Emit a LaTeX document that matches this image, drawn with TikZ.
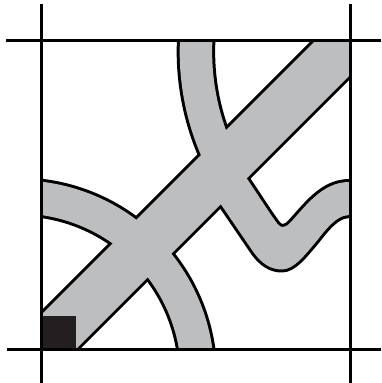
\documentclass[tikz,border=0pt]{standalone}
\definecolor{bandgray}{RGB}{188,190,192}
\definecolor{sqblack}{RGB}{35,31,32}
\tikzset{
  outl/.style={draw=black, line width=6pt, line join=round},
  bandfill/.style={fill=bandgray},
  frameline/.style={draw=black, line width=3pt},
}
\begin{document}
\begin{tikzpicture}[x=1pt,y=-1pt]
\useasboundingbox (0,0) rectangle (381,383);
% diagonal band
\def\bandDiag{(30,326) -- (326,30) -- (362,30) -- (362,63) -- (63,362) -- (30,362) -- cycle}
% quarter-ring band, centre (18.7,376)
\def\bandArc{(1.65,181.14) arc[start angle=-95, end angle=5, radius=195.6]
  -- (180.58,390.16) arc[start angle=5, end angle=-95, radius=162.5] -- cycle}
% S-shaped band from top edge to right edge
\def\bandS{(180.76,28.0) arc[start angle=185.2, end angle=156.4, radius=262]
  .. controls (206,166.6) and (214.4,194.7) .. (220,203)
  -- (252,250)
  .. controls (262,265) and (272,269.5) .. (282,269.5)
  .. controls (294,269.5) and (305.3,254.2) .. (313.3,245)
  .. controls (322,235) and (334,215.5) .. (349,215)
  -- (362,215) -- (362,182) -- (349,182)
  .. controls (322,182) and (305,207) .. (290,223)
  .. controls (285,228) and (281,228) .. (278,224.5)
  .. controls (272,217) and (262,201) .. (246.7,178.3)
  .. controls (240,168) and (230,141) .. (226.4,131.3)
  arc[start angle=159.7, end angle=185.9, radius=229.5] -- cycle}
\begin{scope}
  \clip (41,40.5) rectangle (350,349);
  \path[outl] \bandDiag;
  \path[outl] \bandArc;
  \path[outl] \bandS;
  \path[bandfill] \bandDiag;
  \path[bandfill] \bandArc;
  \path[bandfill] \bandS;
\end{scope}
\fill[sqblack] (41,316) rectangle (76,349);
\coordinate (lt) at (41,4);   \coordinate (lb) at (41,383);
\coordinate (rt) at (350,4);  \coordinate (rb) at (350,383);
\coordinate (tl) at (6,40.5); \coordinate (tr) at (381,40.5);
\coordinate (bl) at (7,349);  \coordinate (br) at (381,349);
\draw[frameline] (lt) -- (lb);
\draw[frameline] (rt) -- (rb);
\draw[frameline] (tl) -- (tr);
\draw[frameline] (bl) -- (br);
\end{tikzpicture}
\end{document}
